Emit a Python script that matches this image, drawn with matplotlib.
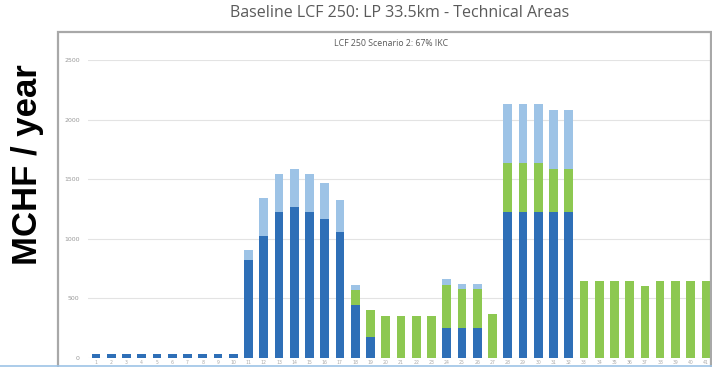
import matplotlib.pyplot as plt
import matplotlib.patches as mpatches
from matplotlib.lines import Line2D
import numpy as np

# Stacked cost per technical area (MCHF / year)
areas = [str(i + 1) for i in range(41)]
dark_blue = [30] * 10 + [820, 1026, 1223, 1270, 1229, 1168, 1059, 442, 175,
                         0, 0, 0, 0, 250, 250, 250, 0,
                         1226, 1226, 1226, 1226, 1226] + [0] * 9
green = [0] * 17 + [128, 228, 353, 353, 353, 353, 361, 328, 328, 372,
                    406, 406, 406, 359, 359,
                    645, 645, 645, 645, 600, 645, 645, 645, 645]
light_blue = [0] * 10 + [83, 314, 317, 315, 314, 302, 267, 41, 0,
                         0, 0, 0, 0, 53, 47, 47, 0,
                         495, 495, 495, 495, 495] + [0] * 9
y_ticks = [0, 500, 1000, 1500, 2000, 2500]

C_DARK = '#2E6FB7'
C_GREEN = '#8DC851'
C_LIGHT = '#9DC3E6'

W, H = 712, 367
fig = plt.figure(figsize=(W / 100, H / 100), dpi=100)
fig.patch.set_facecolor('white')

# axes placement in pixels: left 88, right 712, zero line y=358, 2500 at y=60
ax = fig.add_axes([88 / W, (H - 358) / H, 1 - 88 / W, (358 - 60) / H])
x = np.arange(len(areas))
dark = np.array(dark_blue)
grn = np.array(green)
lgt = np.array(light_blue)
ax.bar(x, dark, width=0.57, color=C_DARK, zorder=3)
ax.bar(x, grn, width=0.57, bottom=dark, color=C_GREEN, zorder=3)
ax.bar(x, lgt, width=0.57, bottom=dark + grn, color=C_LIGHT, zorder=3)

ax.set_xlim(-0.52, 40.4)
ax.set_ylim(0, 2500)
ax.set_yticks(y_ticks)
ax.set_yticklabels([str(v) for v in y_ticks], fontsize=4.5, color='#999999')
ax.yaxis.grid(True, color='#E3E3E3', linewidth=0.8, zorder=0)
ax.set_xticks(x)
ax.set_xticklabels(areas, fontsize=3.3, color='#AAAAAA')
ax.tick_params(length=0, pad=6)
ax.tick_params(axis='x', pad=1.2)
for s in ax.spines.values():
    s.set_visible(False)
ax.set_facecolor('none')

# inner chart frame
frame = mpatches.Rectangle((58 / W, -0.05), (711 - 58) / W, (H - 32) / H + 0.05,
                           transform=fig.transFigure, fill=False,
                           edgecolor='#A8A8A8', linewidth=1.6, zorder=0)
fig.patches.append(frame)

# bottom blue rule
fig.add_artist(Line2D([0, 1], [(H - 365.5) / H] * 2, transform=fig.transFigure,
                      color=C_LIGHT, linewidth=1.2))

fig.text(400 / W, 1 - 13 / H, 'Baseline LCF 250: LP 33.5km - Technical Areas',
         ha='center', va='center', fontsize=11.5, color='#5A5A5A',
         family='Open Sans')
fig.text(391 / W, 1 - 44 / H, 'LCF 250 Scenario 2: 67% IKC',
         ha='center', va='center', fontsize=6.3, color='#595959',
         family='Open Sans')
fig.text(28 / W, 1 - 165 / H, 'MCHF / year', rotation=90,
         ha='center', va='center', fontsize=25, fontweight='bold',
         color='black', family='Liberation Sans')

fig.savefig('out.png', dpi=100, facecolor='white')
